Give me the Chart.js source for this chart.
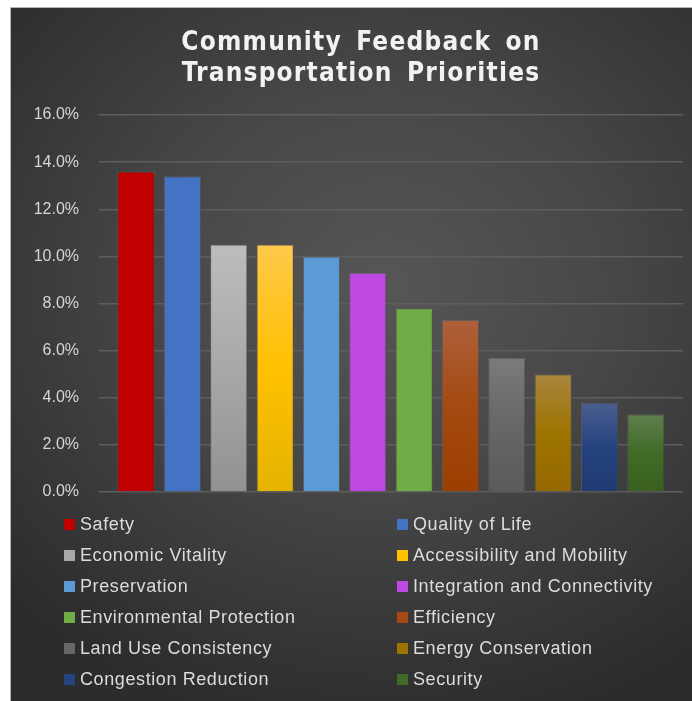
<!DOCTYPE html>
<html>
<head>
<meta charset="utf-8">
<script src="https://cdn.jsdelivr.net/npm/chart.js@4/dist/chart.umd.min.js"></script>
<style>
  html, body { margin: 0; padding: 0; background: #fff; }
  #wrap { position: relative; width: 692px; height: 701px; overflow: hidden; }
  #panel {
    position: absolute; left: 10px; top: 7px; width: 682px; height: 694px;
    border-left: 1px solid #b5b5b5; border-top: 1px solid #b5b5b5; box-sizing: border-box;
    background: radial-gradient(ellipse 75% 65% at 55% 40%, #565656 0%, #474747 45%, #2c2c2c 100%);
  }
  #grafico { position: absolute; left: 0; top: 0; }
  .titulo {
    position: absolute; left: 0; top: 18px; width: 700px; text-align: center;
    font-family: "Liberation Sans Narrow", "DejaVu Sans Condensed", sans-serif;
    font-weight: bold; font-size: 26px; line-height: 31px;
    letter-spacing: 1.2px; word-spacing: 5px;
    color: #f2f2f2;
  }
  .legenda {
    position: absolute; left: 53px; top: 501px;
    display: grid; grid-template-columns: 333px 300px; grid-auto-rows: 31px;
    font-family: "Liberation Sans", Arial, sans-serif; font-size: 18px;
    letter-spacing: 0.6px; color: #dcdcdc;
  }
  .legenda .item { display: flex; align-items: center; white-space: nowrap; }
  .legenda .caixa { width: 11px; height: 11px; margin-right: 5px; flex: none; }
</style>
</head>
<body>
<div id="wrap">
  <div id="panel">
    <canvas id="grafico" width="682" height="694"></canvas>
    <div class="titulo">Community Feedback on<br>Transportation Priorities</div>
    <div class="legenda" id="legenda"></div>
  </div>
</div>
<script>
const categorias = [
  'Safety', 'Quality of Life', 'Economic Vitality', 'Accessibility and Mobility',
  'Preservation', 'Integration and Connectivity', 'Environmental Protection', 'Efficiency',
  'Land Use Consistency', 'Energy Conservation', 'Congestion Reduction', 'Security',
];
const valores = [13.6, 13.4, 10.5, 10.5, 10.0, 9.3, 7.8, 7.3, 5.7, 5.0, 3.8, 3.3];
const ticksY = [0, 2, 4, 6, 8, 10, 12, 14, 16];

// cores de cada barra: topo, meio, base
const cores = [
  ['#C00000', '#C00000', '#C00000'],
  ['#4472C4', '#4472C4', '#4472C4'],
  ['#BDBDBD', '#A8A8A8', '#929292'],
  ['#FFC94A', '#FFC000', '#E4B300'],
  ['#5B9BD5', '#5B9BD5', '#5B9BD5'],
  ['#BF47E2', '#BF47E2', '#BF47E2'],
  ['#70AD47', '#70AD47', '#70AD47'],
  ['#AE5F3A', '#A44A12', '#9D3E00'],
  ['#7B7B7B', '#676767', '#5A5A5A'],
  ['#A8863E', '#9E7400', '#946800'],
  ['#4B5E8F', '#25437E', '#1F3B72'],
  ['#5F7F4D', '#416B28', '#3A6020'],
];

const gradiente = (context) => {
  const chart = context.chart;
  const i = context.dataIndex;
  const c = cores[i];
  if (!chart.chartArea || c === undefined) return c ? c[1] : '#888';
  const y = chart.scales.y;
  const topo = y.getPixelForValue(valores[i]);
  const base = y.getPixelForValue(0);
  const g = chart.ctx.createLinearGradient(0, topo, 0, base);
  g.addColorStop(0, c[0]);
  g.addColorStop(0.5, c[1]);
  g.addColorStop(1, c[2]);
  return g;
};

// sombra leve por baixo das barras
const sombra = {
  id: 'sombra',
  beforeDatasetsDraw(chart) {
    const ctx = chart.ctx;
    ctx.save();
    ctx.shadowColor = 'rgba(0,0,0,0.35)';
    ctx.shadowBlur = 4;
    ctx.shadowOffsetX = 1;
    ctx.shadowOffsetY = 1;
  },
  afterDatasetsDraw(chart) {
    chart.ctx.restore();
  },
};

const ctx = document.getElementById('grafico');
new Chart(ctx, {
  type: 'bar',
  data: {
    datasets: [
      {
        label: 'Prioridades',
        data: valores.map((v, i) => ({ x: i, y: v })),
        backgroundColor: gradiente,
        borderColor: 'rgba(125,125,125,0.55)',
        borderWidth: 1,
        categoryPercentage: 1,
        barPercentage: 0.806,
      },
    ],
  },
  options: {
    responsive: false,
    animation: false,
    layout: { padding: { top: 107, right: 10, bottom: 210, left: 0 } },
    plugins: {
      legend: { display: false },
      title: { display: false },
      tooltip: { enabled: false },
    },
    scales: {
      x: { type: 'linear', min: -0.8, max: 11.8, offset: false, display: false },
      y: {
        min: 0,
        max: 16,
        afterFit: (s) => { s.width = 88; },
        afterBuildTicks: (s) => { s.ticks = ticksY.map((v) => ({ value: v })); },
        border: { display: false },
        grid: { color: '#5e5e5e', lineWidth: 1.5, drawTicks: false },
        ticks: {
          padding: 20,
          color: '#d6d6d6',
          font: { family: '"Liberation Sans", Arial, sans-serif', size: 16 },
          callback: (v) => v.toFixed(1) + '%',
        },
      },
    },
  },
  plugins: [sombra],
});

// legenda em duas colunas
const legenda = document.getElementById('legenda');
categorias.forEach((nome, i) => {
  const item = document.createElement('div');
  item.className = 'item';
  const caixa = document.createElement('span');
  caixa.className = 'caixa';
  caixa.style.background = cores[i][1];
  item.appendChild(caixa);
  item.appendChild(document.createTextNode(nome));
  legenda.appendChild(item);
});
</script>
</body>
</html>
